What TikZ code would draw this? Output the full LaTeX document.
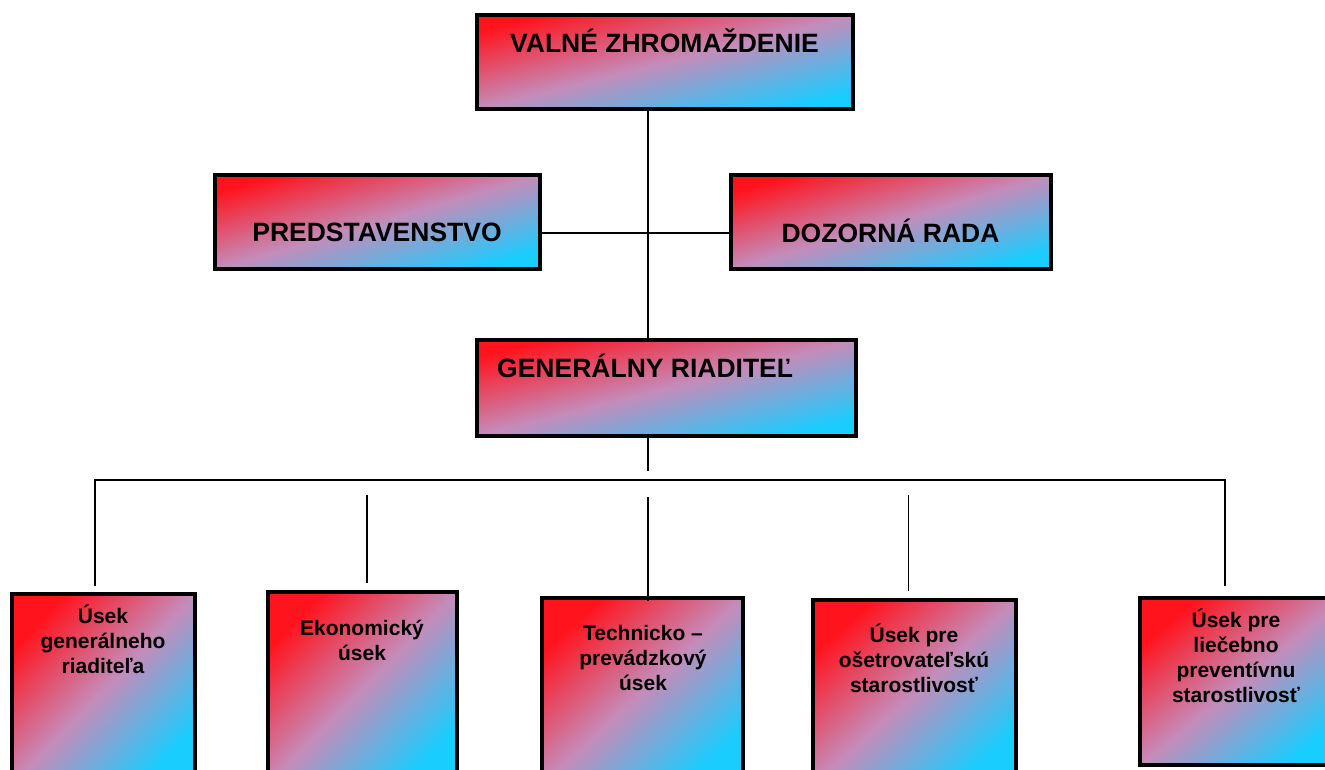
\documentclass[tikz,border=0pt]{standalone}
\usepackage{fontspec}
\setmainfont{Liberation Sans}
\usetikzlibrary{calc}
\definecolor{cred}{RGB}{255,20,30}
\definecolor{cmid}{RGB}{196,140,186}
\definecolor{ccyan}{RGB}{25,205,255}
\tikzset{
  box/.style n args={3}{draw=black, line width=4pt, rectangle, inner sep=0pt,
    left color=cred, right color=ccyan, middle color=cmid,
    minimum width=#1pt, minimum height=#2pt, shading angle=#3},
  bigtxt/.style={font=\bfseries\fontsize{26.5}{30}\selectfont, inner sep=0pt},
  smalltxt/.style={font=\bfseries\fontsize{21}{25}\selectfont, inner sep=0pt, align=center},
  conn/.style={draw=black, line width=1.6pt},
}
\begin{document}
\begin{tikzpicture}[x=1pt,y=-1pt]
\useasboundingbox (0,0) rectangle (1325,769);
% boxes
\node[box={376}{94}{14.04}] (vz) at (665,62) {};
\node[box={325}{94}{16.13}] (pred) at (377.5,222) {};
\node[box={320}{94}{16.37}] (doz) at (891,222) {};
\node[box={379}{96}{14.21}] (gr) at (666.5,388) {};
\node[box={183}{191}{46.2}] (b1) at (103.5,689.5) {};
\node[box={189}{193}{45.6}] (b2) at (362.5,688.5) {};
\node[box={201}{187}{42.9}] (b3) at (642.5,691.5) {};
\node[box={203}{185}{42.3}] (b4) at (914.5,692.5) {};
\node[box={205}{167}{39.2}] (b5) at (1242.5,681.5) {};
% texts
\node[bigtxt, anchor=base] (vzt) at (664.5,52) {VALNÉ ZHROMAŽDENIE};
\node[bigtxt, anchor=base] (predt) at (377,241) {PREDSTAVENSTVO};
\node[bigtxt, anchor=base] (dozt) at (890.5,242) {DOZORNÁ RADA};
\node[bigtxt, anchor=base west] (grt) at (497,377) {GENERÁLNY RIADITEĽ};
\node[smalltxt, anchor=base] (b1t) at (103,673) {Úsek\\generálneho\\riaditeľa};
\node[smalltxt, anchor=base] (b2t) at (362,660) {Ekonomický\\úsek};
\node[smalltxt, anchor=base] (b3t) at (643,690) {Technicko –\\prevádzkový\\úsek};
\node[smalltxt, anchor=base] (b4t) at (914,692) {Úsek pre\\ošetrovateľskú\\starostlivosť};
\node[smalltxt, anchor=base] (b5t) at (1236,702) {Úsek pre\\liečebno\\preventívnu\\starostlivosť};
% connector helper coordinates
\coordinate (tr) at (648,0);
\coordinate (hy) at (0,233);
\coordinate (stub) at (648,471);
\coordinate (bl) at (95,480);
\coordinate (br) at (1225,480);
\coordinate (c2) at (367,495);
\coordinate (c3) at (648,497);
\coordinate (c4) at (908.5,495);
% connectors
\draw[conn] (vz.south -| tr) -- (gr.north -| tr);
\draw[conn] (pred.east |- hy) -- (doz.west |- hy);
\draw[conn] (gr.south -| tr) -- (stub);
\draw[conn] ([yshift=6pt]b1.north -| bl) -- (bl) -- (br) -- ([yshift=10pt]b5.north -| br);
\draw[conn] (c2) -- ([yshift=7pt]b2.north -| c2);
\draw[conn] (c3) -- ([yshift=-5pt]b3.north -| c3);
\draw[conn] (c4) -- ([yshift=7pt]b4.north -| c4);
\end{tikzpicture}
\end{document}
